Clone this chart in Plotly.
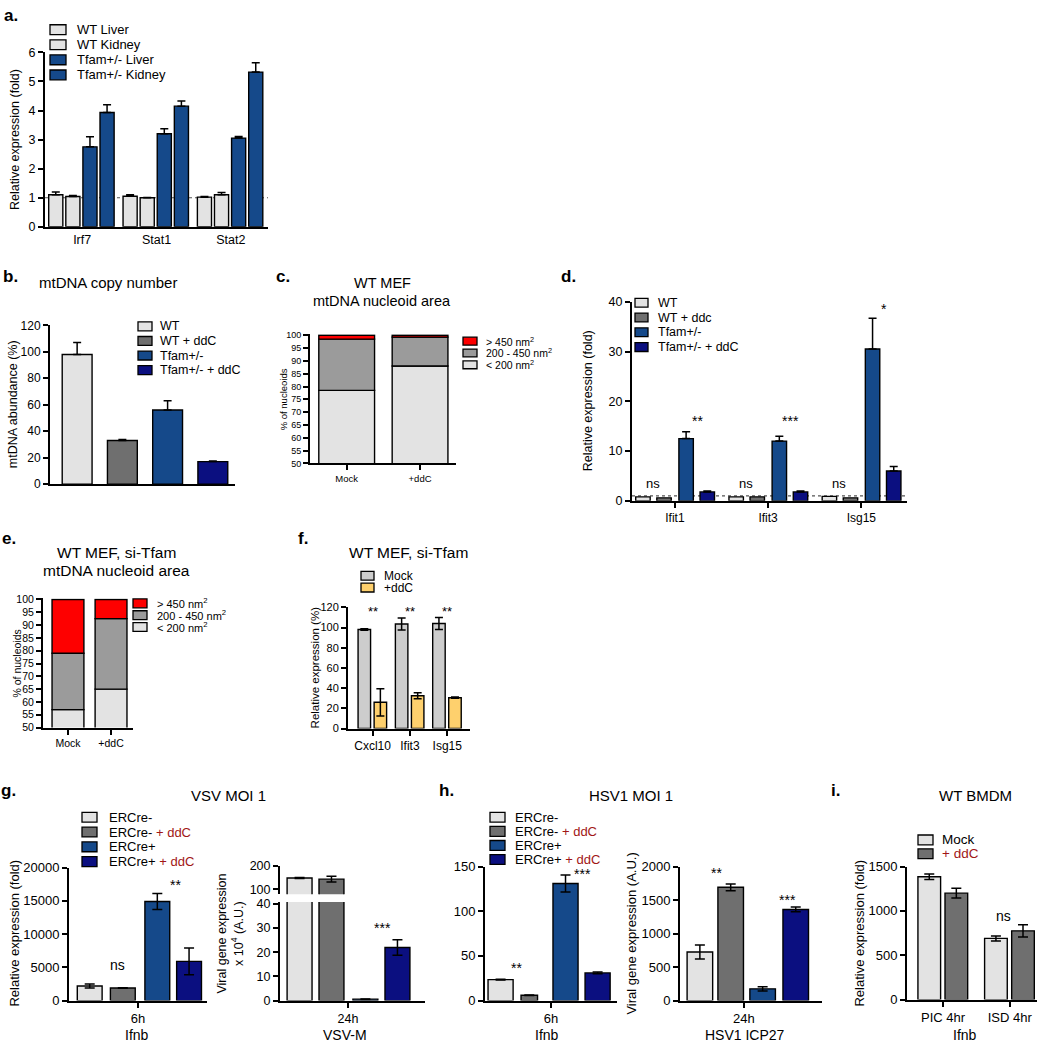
import plotly.graph_objects as go

W, H = 1042, 1050
FONT = "Liberation Sans, Arial, Helvetica, sans-serif"

LIGHT = "#e3e3e3"
DARK = "#6f6f6f"
BLUE = "#15498a"
NAVY = "#0b0f80"
RED = "#fe0000"
MID = "#9b9b9b"
F_GRAY = "#cdcdcd"
F_ORANGE = "#fed06d"
DDC_RED = "#a11616"

# ---------------- data ----------------
# a
a_genes = ["Irf7", "Stat1", "Stat2"]
a_series = ["WT Liver", "WT Kidney", "Tfam+/- Liver", "Tfam+/- Kidney"]
a_wt_liver = [1.10, 1.05, 1.02]
a_wt_liver_err = [0.10, 0.05, 0.02]
a_wt_kidney = [1.04, 1.00, 1.10]
a_wt_kidney_err = [0.04, 0.01, 0.08]
a_tfam_liver = [2.75, 3.20, 3.05]
a_tfam_liver_err = [0.35, 0.17, 0.06]
a_tfam_kidney = [3.93, 4.15, 5.32]
a_tfam_kidney_err = [0.27, 0.18, 0.32]
a_yticks = [0, 1, 2, 3, 4, 5, 6]

# b
b_groups = ["WT", "WT + ddC", "Tfam+/-", "Tfam+/- + ddC"]
b_values = [98, 33, 56, 17]
b_err = [9, 0.8, 7, 0.5]
b_yticks = [0, 20, 40, 60, 80, 100, 120]

# c
c_conditions = ["Mock", "+ddC"]
c_bins = ["> 450 nm<sup>2</sup>", "200 - 450 nm<sup>2</sup>", "< 200 nm<sup>2</sup>"]
c_small = [78.5, 88.0]
c_mid = [20.0, 11.3]
c_large = [1.5, 0.7]
nucleoid_yticks = [50, 55, 60, 65, 70, 75, 80, 85, 90, 95, 100]

# d
d_genes = ["Ifit1", "Ifit3", "Isg15"]
d_series = ["WT", "WT + ddc", "Tfam+/-", "Tfam+/- + ddC"]
d_wt = [0.8, 0.8, 0.9]
d_wt_ddc = [0.6, 0.8, 0.6]
d_tfam = [12.5, 12.0, 30.5]
d_tfam_err = [1.4, 1.0, 6.2]
d_tfam_ddc = [1.8, 1.8, 6.0]
d_tfam_ddc_err = [0.2, 0.2, 0.9]
d_ns = ["ns", "ns", "ns"]
d_sig = ["**", "***", "*"]
d_sig_y = [16, 16, 38.5]
d_yticks = [0, 10, 20, 30, 40]

# e
e_conditions = ["Mock", "+ddC"]
e_small = [57.0, 65.0]
e_mid = [22.0, 27.5]
e_large = [21.0, 7.5]

# f
f_genes = ["Cxcl10", "Ifit3", "Isg15"]
f_series = ["Mock", "+ddC"]
f_mock = [98, 103.5, 104]
f_mock_err = [0.7, 6, 6]
f_ddc = [26, 32.5, 30.5]
f_ddc_err = [13.5, 3, 0.6]
f_sig = ["**", "**", "**"]
f_yticks = [0, 20, 40, 60, 80, 100, 120]

# g
g_series = ["ERCre-", "ERCre- + ddC", "ERCre+", "ERCre+ + ddC"]
g_ifnb = [2200, 1900, 14900, 5900]
g_ifnb_err = [300, 40, 1200, 2000]
g_ifnb_yticks = [0, 5000, 10000, 15000, 20000]
g_vsv = [148, 143, 0.6, 22]
g_vsv_err = [2, 12, 0.1, 3.2]
g_vsv_low_ticks = [0, 10, 20, 30, 40]
g_vsv_high_ticks = [100, 200]

# h
h_ifnb = [23.5, 6, 131, 31]
h_ifnb_err = [0.4, 0.3, 9.5, 1]
h_ifnb_yticks = [0, 50, 100, 150]
h_icp27 = [725, 1690, 175, 1360]
h_icp27_err = [105, 50, 30, 35]
h_icp27_yticks = [0, 500, 1000, 1500, 2000]

# i
i_conditions = ["PIC 4hr", "ISD 4hr"]
i_series = ["Mock", "+ ddC"]
i_mock = [1385, 690]
i_mock_err = [30, 28]
i_ddc = [1200, 775]
i_ddc_err = [55, 70]
i_yticks = [0, 500, 1000, 1500]

# ---------------- helpers ----------------
fig = go.Figure()
layout = dict(
    width=W, height=H, margin=dict(l=0, r=0, t=0, b=0),
    paper_bgcolor="white", plot_bgcolor="rgba(0,0,0,0)",
    barmode="overlay", showlegend=False,
    font=dict(family=FONT, color="black"),
)
shapes, annotations = [], []
axis_n = [0]


def axes(x0, x1, ytop, ybot, cats, xrange, yrange, yticks, tick_size,
         xtick_size=None, xticks="outside", show_xlabels=True, show_xline=True):
    axis_n[0] += 1
    k = "" if axis_n[0] == 1 else str(axis_n[0])
    xn, yn = "x" + k, "y" + k
    common = dict(showgrid=False, zeroline=False, showline=True, linecolor="black",
                  linewidth=2, tickcolor="black", tickwidth=1.6, ticklen=5, fixedrange=True)
    layout["xaxis" + k] = dict(common, domain=[x0 / W, x1 / W], anchor=yn, type="category",
                               categoryorder="array", categoryarray=cats, range=xrange,
                               ticks=xticks, showticklabels=show_xlabels,
                               tickfont=dict(size=xtick_size or tick_size), showline=show_xline)
    layout["yaxis" + k] = dict(common, domain=[1 - ybot / H, 1 - ytop / H], anchor=xn,
                               range=yrange, tickmode="array", tickvals=yticks, tickformat="d",
                               ticks="outside", tickfont=dict(size=tick_size))
    return xn, yn


def bars(xn, yn, cats, vals, color, offset, width, err_up=None, err_down=None,
         base=None, lw=1.4, cap=4):
    kw = {}
    if err_up is not None:
        kw["error_y"] = dict(type="data", symmetric=False, array=err_up,
                             arrayminus=err_down if err_down is not None else [0] * len(err_up),
                             color="black", thickness=1.5, width=cap)
    if base is not None:
        kw["base"] = base
    fig.add_trace(go.Bar(x=cats, y=vals, xaxis=xn, yaxis=yn, offset=offset, width=width,
                         marker=dict(color=color, line=dict(color="black", width=lw)),
                         hoverinfo="skip", showlegend=False, **kw))


def txt(x, y, text, size, bold=False, angle=0, color="black", xanchor="center"):
    annotations.append(dict(xref="paper", yref="paper", x=x / W, y=1 - y / H,
                            text=f"<b>{text}</b>" if bold else text, showarrow=False,
                            font=dict(size=size, color=color), textangle=angle,
                            xanchor=xanchor, yanchor="middle"))


def sig(xn, yn, x, y, text, size=13):
    annotations.append(dict(xref=xn, yref=yn, x=x, y=y, text=text, showarrow=False,
                            font=dict(size=size), xanchor="center", yanchor="middle"))


def legend(x_box, y_first, dy, labels, colors, size, text_x, box_w=15, box_h=10):
    for i, (lab, col) in enumerate(zip(labels, colors)):
        yc = y_first + i * dy
        shapes.append(dict(type="rect", xref="paper", yref="paper",
                           x0=x_box / W, x1=(x_box + box_w) / W,
                           y0=1 - (yc + box_h / 2) / H, y1=1 - (yc - box_h / 2) / H,
                           fillcolor=col, line=dict(color="black", width=1.3)))
        txt(text_x, yc, lab, size, xanchor="left")


def dotted(xn, yn, yval):
    shapes.append(dict(type="line", xref=xn + " domain", yref=yn, x0=0, x1=1, y0=yval, y1=yval,
                       layer="below", line=dict(color="#555555", width=1.2, dash="dot")))


def red_ddc(label):
    return label.replace("+ ddC", f"<span style='color:{DDC_RED}'>+ ddC</span>")


# ---------------- panel a ----------------
xa, ya = axes(45, 268, 46, 223, a_genes, [-0.5, 2.5], [0, 6], a_yticks, 12.5, xtick_size=12.5, xticks="")
dotted(xa, ya, 1)
a_vals = [a_wt_liver, a_wt_kidney, a_tfam_liver, a_tfam_kidney]
a_errs = [a_wt_liver_err, a_wt_kidney_err, a_tfam_liver_err, a_tfam_kidney_err]
a_cols = [LIGHT, LIGHT, BLUE, BLUE]
for v, e, c, off in zip(a_vals, a_errs, a_cols, [-0.45, -0.22, 0.01, 0.24]):
    bars(xa, ya, a_genes, v, c, off, 0.19, e)
legend(50, 23, 15.3, a_series, a_cols, 13, 75, box_w=16)
txt(11, 9, "a.", 17, bold=True)
txt(15, 135, "Relative expression (fold)", 12.5, angle=-90)

# ---------------- panel b ----------------
xb, yb = axes(50, 235, 323, 484, b_groups, [-0.6, 3.49], [0, 120], b_yticks, 12,
              xticks="", show_xlabels=False)
b_cols = [LIGHT, DARK, BLUE, NAVY]
bars(xb, yb, b_groups, b_values, b_cols, -0.33, 0.66, b_err)
legend(138, 324, 14.8, b_groups, b_cols, 12.5, 158, box_w=14, box_h=9)
txt(10, 273, "b.", 17, bold=True)
txt(108, 280, "mtDNA copy number", 15)
txt(13, 403, "mtDNA abundance (%)", 12.5, angle=-90)

# ---------------- panel c ----------------
xc, yc_ = axes(310, 456, 332, 463, c_conditions, [-0.5, 1.49], [50, 100.4], nucleoid_yticks, 9,
               xtick_size=9.5)
c_base_large = [s + m for s, m in zip(c_small, c_mid)]
bars(xc, yc_, c_conditions, c_small, LIGHT, -0.38, 0.76)
bars(xc, yc_, c_conditions, c_mid, MID, -0.38, 0.76, base=c_small)
bars(xc, yc_, c_conditions, c_large, RED, -0.38, 0.76, base=c_base_large)
legend(463, 339, 12, c_bins, [RED, MID, LIGHT], 10.5, 484, box_w=14, box_h=8)
txt(283, 273, "c.", 17, bold=True)
txt(382, 280, "WT MEF", 14.5)
txt(382, 298, "mtDNA nucleoid area", 14.5)
txt(283, 398, "% of nucleoids", 9.5, angle=-90)

# ---------------- panel d ----------------
xd, yd = axes(632, 907, 299, 501, d_genes, [-0.46, 2.49], [0, 40], d_yticks, 12.5, xtick_size=12)
dotted(xd, yd, 1)
d_cols = [LIGHT, DARK, BLUE, NAVY]
d_offs = [-0.42, -0.194, 0.043, 0.27]
bars(xd, yd, d_genes, d_wt, LIGHT, d_offs[0], 0.155)
bars(xd, yd, d_genes, d_wt_ddc, DARK, d_offs[1], 0.155)
bars(xd, yd, d_genes, d_tfam, BLUE, d_offs[2], 0.155, d_tfam_err)
bars(xd, yd, d_genes, d_tfam_ddc, NAVY, d_offs[3], 0.155, d_tfam_ddc_err)
for i, (ns, s, sy) in enumerate(zip(d_ns, d_sig, d_sig_y)):
    sig(xd, yd, i - 0.235, 3.5, ns, 13)
    sig(xd, yd, i + 0.24, sy, s, 14)
legend(635, 300, 15, d_series, d_cols, 12.5, 656, box_w=13, box_h=9)
txt(568, 273, "d.", 17, bold=True)
txt(588, 400, "Relative expression (fold)", 12.5, angle=-90)

# ---------------- panel e ----------------
xe, ye = axes(43, 133, 600, 731, e_conditions, [-0.58, 1.51], [50, 100.4], nucleoid_yticks, 10.5,
              xtick_size=10.5)
e_base_large = [s + m for s, m in zip(e_small, e_mid)]
bars(xe, ye, e_conditions, e_small, LIGHT, -0.37, 0.74)
bars(xe, ye, e_conditions, e_mid, MID, -0.37, 0.74, base=e_small)
bars(xe, ye, e_conditions, e_large, RED, -0.37, 0.74, base=e_base_large)
legend(133, 605, 12, c_bins, [RED, MID, LIGHT], 11, 155, box_w=14, box_h=9)
txt(9, 539, "e.", 17, bold=True)
txt(116, 553, "WT MEF, si-Tfam", 15.5)
txt(116, 572, "mtDNA nucleoid area", 15.5)
txt(17, 666, "% of nucleoids", 10.5, angle=-90)

# ---------------- panel f ----------------
xf, yf = axes(348, 470, 609, 732, f_genes, [-0.66, 2.61], [0, 120], f_yticks, 11, xtick_size=12)
bars(xf, yf, f_genes, f_mock, F_GRAY, -0.39, 0.335, f_mock_err, f_mock_err)
bars(xf, yf, f_genes, f_ddc, F_ORANGE, 0.04, 0.335, f_ddc_err, f_ddc_err)
for i, s in enumerate(f_sig):
    sig(xf, yf, i, 116, s, 13)
legend(361, 577, 12, f_series, [F_GRAY, F_ORANGE], 12, 382, box_w=13, box_h=9)
txt(303, 539, "f.", 17, bold=True)
txt(408, 553, "WT MEF, si-Tfam", 15.5)
txt(315, 670, "Relative expression (%)", 11.5, angle=-90)

# ---------------- panel g ----------------
g_cols = [LIGHT, DARK, BLUE, NAVY]
xg, yg = axes(69, 207, 873, 1008, ["6h"], [-0.5, 0.5], [0, 20000], g_ifnb_yticks, 13)
g_offs = [-0.44, -0.2, 0.05, 0.28]
for i in range(4):
    bars(xg, yg, ["6h"], [g_ifnb[i]], g_cols[i], g_offs[i], 0.18, [g_ifnb_err[i]], [g_ifnb_err[i]], cap=5)
sig(xg, yg, -0.15, 5300, "ns", 14)
sig(xg, yg, 0.275, 17300, "**", 14)
legend(82, 822, 15, [red_ddc(s) for s in g_series], g_cols, 13, 107, box_w=15, box_h=10)

xg2, yg2 = axes(280, 425, 908, 1008, ["24h"], [-0.469, 0.531], [0, 40.8], g_vsv_low_ticks, 12.5)
xg3, yg3 = axes(280, 425, 871, 900, ["24h"], [-0.469, 0.531], [80, 200], g_vsv_high_ticks, 12.5,
                xticks="", show_xlabels=False, show_xline=False)
vsv_offs = [-0.42, -0.2, 0.034, 0.255]
for i in range(4):
    bars(xg2, yg2, ["24h"], [g_vsv[i]], g_cols[i], vsv_offs[i], 0.172, [g_vsv_err[i]], [g_vsv_err[i]], cap=5)
    bars(xg3, yg3, ["24h"], [g_vsv[i]], g_cols[i], vsv_offs[i], 0.172, [g_vsv_err[i]], [g_vsv_err[i]], cap=5)
sig(xg3, yg3, -0.16, 206, "ns", 14)
sig(xg2, yg2, 0.24, 30, "***", 14)
txt(8, 795, "g.", 17, bold=True)
txt(228, 800, "VSV MOI 1", 15)
txt(15, 940, "Relative expression (fold)", 13, angle=-90)
txt(230, 940, "Viral gene expression<br>x 10<sup>4</sup> (A.U.)", 12.5, angle=-90)
txt(137, 1043, "Ifnb", 14)
txt(345, 1043, "VSV-M", 14)

# ---------------- panel h ----------------
xh, yh = axes(485, 617, 872, 1008, ["6h"], [-0.5, 0.5], [0, 150], h_ifnb_yticks, 13)
h_offs = [-0.477, -0.227, 0.015, 0.258]
h_widths = [0.19, 0.125, 0.19, 0.19]
for i in range(4):
    bars(xh, yh, ["6h"], [h_ifnb[i]], g_cols[i], h_offs[i], h_widths[i], [h_ifnb_err[i]], [h_ifnb_err[i]], cap=5)
sig(xh, yh, -0.26, 36, "**", 14)
sig(xh, yh, 0.24, 142, "***", 14)
legend(490, 822, 14.3, [red_ddc(s) for s in g_series], g_cols, 13, 513, box_w=15, box_h=10)

xh2, yh2 = axes(680, 822, 872, 1008, ["24h"], [-0.45, 0.55], [0, 2000], h_icp27_yticks, 13)
icp_offs = [-0.40, -0.183, 0.042, 0.275]
for i in range(4):
    bars(xh2, yh2, ["24h"], [h_icp27[i]], g_cols[i], icp_offs[i], 0.18, [h_icp27_err[i]], [h_icp27_err[i]], cap=5)
sig(xh2, yh2, -0.19, 1910, "**", 14)
sig(xh2, yh2, 0.31, 1500, "***", 14)
txt(446, 795, "h.", 17, bold=True)
txt(631, 800, "HSV1 MOI 1", 15)
txt(632, 940, "Viral gene expression (A.U.)", 13, angle=-90)
txt(547, 1043, "Ifnb", 14)
txt(745, 1043, "HSV1 ICP27", 14)

# ---------------- panel i ----------------
xi, yi = axes(907, 1037, 872, 1007, i_conditions, [-0.54, 1.41], [0, 1500], i_yticks, 13)
bars(xi, yi, i_conditions, i_mock, LIGHT, -0.376, 0.34, i_mock_err, i_mock_err, cap=5)
bars(xi, yi, i_conditions, i_ddc, DARK, 0.03, 0.34, i_ddc_err, i_ddc_err, cap=5)
sig(xi, yi, 0.06, 1525, "ns", 14)
sig(xi, yi, 0.9, 945, "ns", 14)
legend(918, 845, 14, [red_ddc(s) for s in i_series], [LIGHT, DARK], 13.5, 940, box_w=15, box_h=10)
txt(835, 795, "i.", 17, bold=True)
txt(975, 800, "WT BMDM", 15)
txt(860, 940, "Relative expression (fold)", 13, angle=-90)
txt(965, 1043, "Ifnb", 14)

layout["shapes"] = shapes
layout["annotations"] = annotations
fig.update_layout(**layout)
fig.write_html(
    "out.html",
    config={"displayModeBar": False},
    post_script="document.body.style.margin='0';document.body.style.padding='0';document.body.style.overflow='hidden';",
)
